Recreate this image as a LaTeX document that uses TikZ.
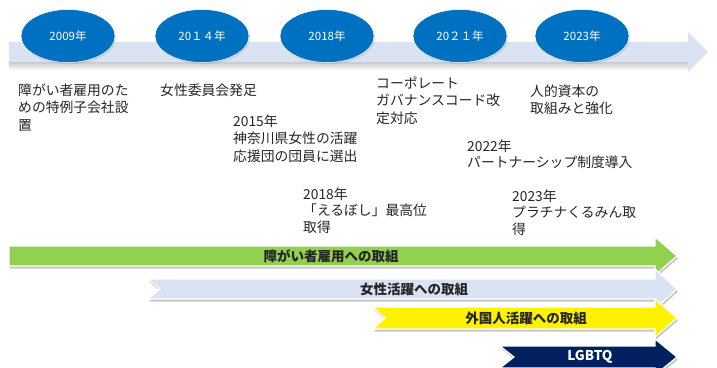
\documentclass[tikz,border=0pt]{standalone}
\usepackage{fontspec}
\newfontfamily\jp{Noto Sans CJK JP}
\usetikzlibrary{shapes.geometric,shadows}
\definecolor{yearblue}{HTML}{0070C0}
\definecolor{bandblue}{HTML}{DAE3F3}
\definecolor{lgreen}{HTML}{92D050}
\definecolor{navyblue}{HTML}{002060}
\definecolor{ink}{HTML}{262626}
\begin{document}
\begin{tikzpicture}[x=1pt,y=-1pt,
 yearoval/.style={ellipse, fill=yearblue, draw=white, line width=0.5pt,
   minimum width=94pt, minimum height=53pt, inner sep=0pt, text=white,
   drop shadow={opacity=0.25, shadow xshift=1pt, shadow yshift=-1.5pt},
   font=\jp\fontsize{11.5}{13}\selectfont},
 eventtext/.style={anchor=base west, align=left, inner sep=0pt, text=ink,
   font=\jp\fontsize{13.8}{17.5}\selectfont},
 eventtight/.style={eventtext, font=\jp\fontsize{13.8}{16.5}\selectfont},
 barlabel/.style={inner sep=0pt, font=\jp\bfseries\fontsize{13.5}{15}\selectfont},
 barshadow/.style={fill=black!22},
 barbody/.style={draw=white, line width=1.2pt},
]
\useasboundingbox (0,0) rectangle (717,367);
\clip (0,0) rectangle (717,367);
\fill[white] (0,0) rectangle (717,367);

% top timeline band
\shade[top color=black!22, bottom color=white] (9,62) rectangle (690,70);
\fill[bandblue] (9,42) -- (688,42) -- (688,32) -- (708,52) -- (688,72) -- (688,62) -- (9,62) -- cycle;

% year ovals
\node[yearoval] (y2009) at (68,36) {2009年};
\node[yearoval] (y2014) at (202,36) {20１４年};
\node[yearoval] (y2018) at (327,36) {2018年};
\node[yearoval] (y2021) at (460,36) {20２１年};
\node[yearoval] (y2023) at (582,36) {2023年};

% events (anchor = baseline of the last line)
\node[eventtext] (e1) at (18,130) {障がい者雇用のた\\めの特例子会社設\\置};
\node[eventtext] (e2) at (160,95) {女性委員会発足};
\node[eventtext] (e3) at (233,161) {2015年\\神奈川県女性の活躍\\応援団の団員に選出};
\node[eventtext] (e4) at (376,123) {コーポレート\\ガバナンスコード改\\定対応};
\node[eventtext] (e5) at (530,113.5) {人的資本の\\取組みと強化};
\node[eventtight] (e6) at (467,167.5) {2022年\\パートナーシップ制度導入};
\node[eventtight] (e7) at (303,232) {2018年\\「えるぼし」最高位\\取得};
\node[eventtight] (e8) at (512,234) {2023年\\プラチナくるみん取\\得};

% bottom arrows
\fill[barshadow, shift={(1,2.5)}] (9,246) -- (655,246) -- (655,237) -- (677,256) -- (655,275) -- (655,266) -- (9,266) -- cycle;
\path[barbody, fill=lgreen] (9,246) -- (655,246) -- (655,237) -- (677,256) -- (655,275) -- (655,266) -- (9,266) -- cycle;
\node[barlabel, text=ink] (b1) at (331,256) {障がい者雇用への取組};

\fill[barshadow, shift={(1,2.5)}] (148,279) -- (655,279) -- (655,269) -- (677,289) -- (655,309) -- (655,299) -- (148,299) -- (160,289) -- cycle;
\path[barbody, fill=bandblue] (148,279) -- (655,279) -- (655,269) -- (677,289) -- (655,309) -- (655,299) -- (148,299) -- (160,289) -- cycle;
\node[barlabel, text=ink] (b2) at (414,289) {女性活躍への取組};

\fill[barshadow, shift={(1,2.5)}] (373,307) -- (655,307) -- (655,299) -- (677,318) -- (655,337) -- (655,329) -- (373,329) -- (385,318) -- cycle;
\path[barbody, fill=yellow] (373,307) -- (655,307) -- (655,299) -- (677,318) -- (655,337) -- (655,329) -- (373,329) -- (385,318) -- cycle;
\node[barlabel, text=ink] (b3) at (526,318) {外国人活躍への取組};

\fill[barshadow, shift={(1,2.5)}] (500,346) -- (655,346) -- (655,339) -- (677,357) -- (655,375) -- (655,368) -- (500,368) -- (514,357) -- cycle;
\path[barbody, fill=navyblue] (500,346) -- (655,346) -- (655,339) -- (677,357) -- (655,375) -- (655,368) -- (500,368) -- (514,357) -- cycle;
\node[barlabel, text=white] (b4) at (590,357) {LGBTQ};
\end{tikzpicture}
\end{document}
